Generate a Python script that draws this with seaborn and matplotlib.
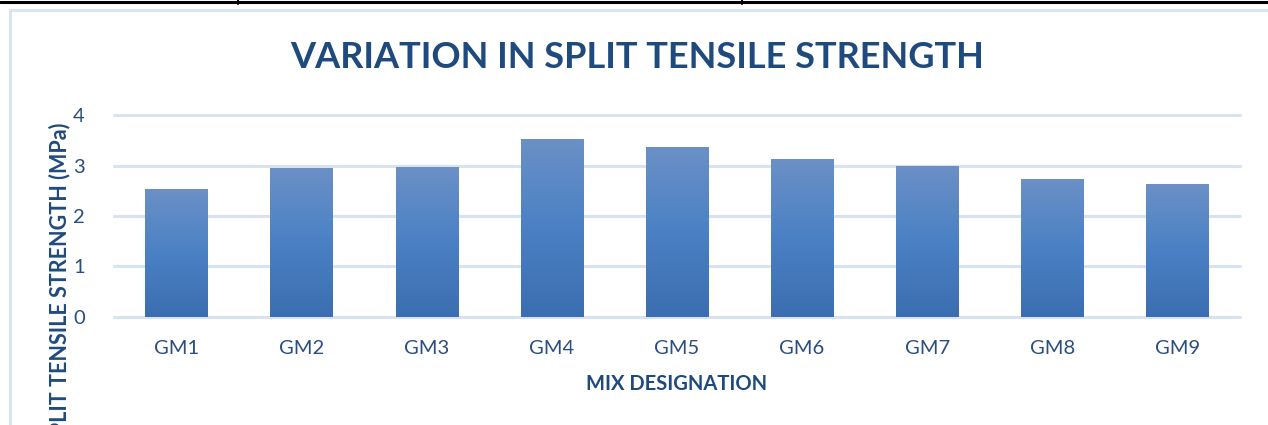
import numpy as np
import pandas as pd
import matplotlib
matplotlib.use("Agg")
import matplotlib.pyplot as plt
from matplotlib.colors import LinearSegmentedColormap
from matplotlib.lines import Line2D
import seaborn as sns

categories = ["GM1", "GM2", "GM3", "GM4", "GM5", "GM6", "GM7", "GM8", "GM9"]
strength = [2.53, 2.95, 2.97, 3.53, 3.37, 3.13, 2.99, 2.73, 2.63]
yticks = [0, 1, 2, 3, 4]

title = "VARIATION IN SPLIT TENSILE STRENGTH"
xlabel = "MIX DESIGNATION"
ylabel = "SPLIT TENSILE STRENGTH (MPa)"

df = pd.DataFrame({"mix": categories, "strength": strength})

sns.set_theme(style="white")
plt.rcParams["font.family"] = ["Lato", "DejaVu Sans"]

W, H = 1268, 425
fig = plt.figure(figsize=(W / 100, H / 100), dpi=100)
ax = fig.add_axes([114 / W, 1 - 316.7 / H, (1240 - 114) / W, (316.7 - 115.3) / H])

sns.barplot(data=df, x="mix", y="strength", ax=ax, width=0.5, color="#4A80C3",
            edgecolor="none", linewidth=0, zorder=3)

# gradient fill for bars
cmap = LinearSegmentedColormap.from_list("g", [(0, "#3B6EB0"), (0.5, "#4A81C4"), (1, "#6B90C6")])
grad = np.linspace(0, 1, 256).reshape(-1, 1)
for p in ax.patches:
    x0, y0 = p.get_x(), p.get_y()
    w, h = p.get_width(), p.get_height()
    im = ax.imshow(grad, extent=[x0, x0 + w, y0, y0 + h], origin="lower", cmap=cmap,
                   aspect="auto", zorder=3, interpolation="bilinear")
    im.set_clip_path(p)
    p.set_facecolor("none")

ax.set_xlim(-0.5, len(categories) - 0.5)
ax.set_ylim(0, 4)
ax.set_yticks(yticks)
ax.set_yticklabels([str(t) for t in yticks])

for y in yticks:
    ax.axhline(y, color="#D9E2F1", linewidth=2.2, zorder=1, clip_on=False)

for s in ax.spines.values():
    s.set_visible(False)

tick_color = "#2A4E7F"
ax.tick_params(axis="both", length=0, labelsize=14.5, colors=tick_color)
ax.tick_params(axis="y", pad=21)
ax.tick_params(axis="x", pad=17)
ax.set_xlabel("")
ax.set_ylabel("")

title_color = "#1F4A7D"
fig.text(637 / W, 1 - 58 / H, title, ha="center", va="center", fontsize=26,
         fontweight="bold", color=title_color)
fig.text(677 / W, 1 - 384 / H, xlabel, ha="center", va="center", fontsize=14.5,
         fontweight="bold", color=title_color)
fig.text(60 / W, 1 - 123 / H, ylabel, ha="center", va="top", rotation=90,
         fontsize=15.5, fontweight="bold", color=title_color)

# chart frame and page decorations
fig.add_artist(Line2D([9.5 / W, 9.5 / W], [0, 1 - 10 / H], color="#DAE3F3", linewidth=2.2))
fig.add_artist(Line2D([9.5 / W, 1], [1 - 10 / H, 1 - 10 / H], color="#DAE3F3", linewidth=2.2))
fig.add_artist(Line2D([0, 1], [1 - 2 / H, 1 - 2 / H], color="black", linewidth=2.2))
for xv in (238, 742):
    fig.add_artist(Line2D([xv / W, xv / W], [1 - 4 / H, 1], color="black", linewidth=1.5))

fig.savefig("out.png", dpi=100)
